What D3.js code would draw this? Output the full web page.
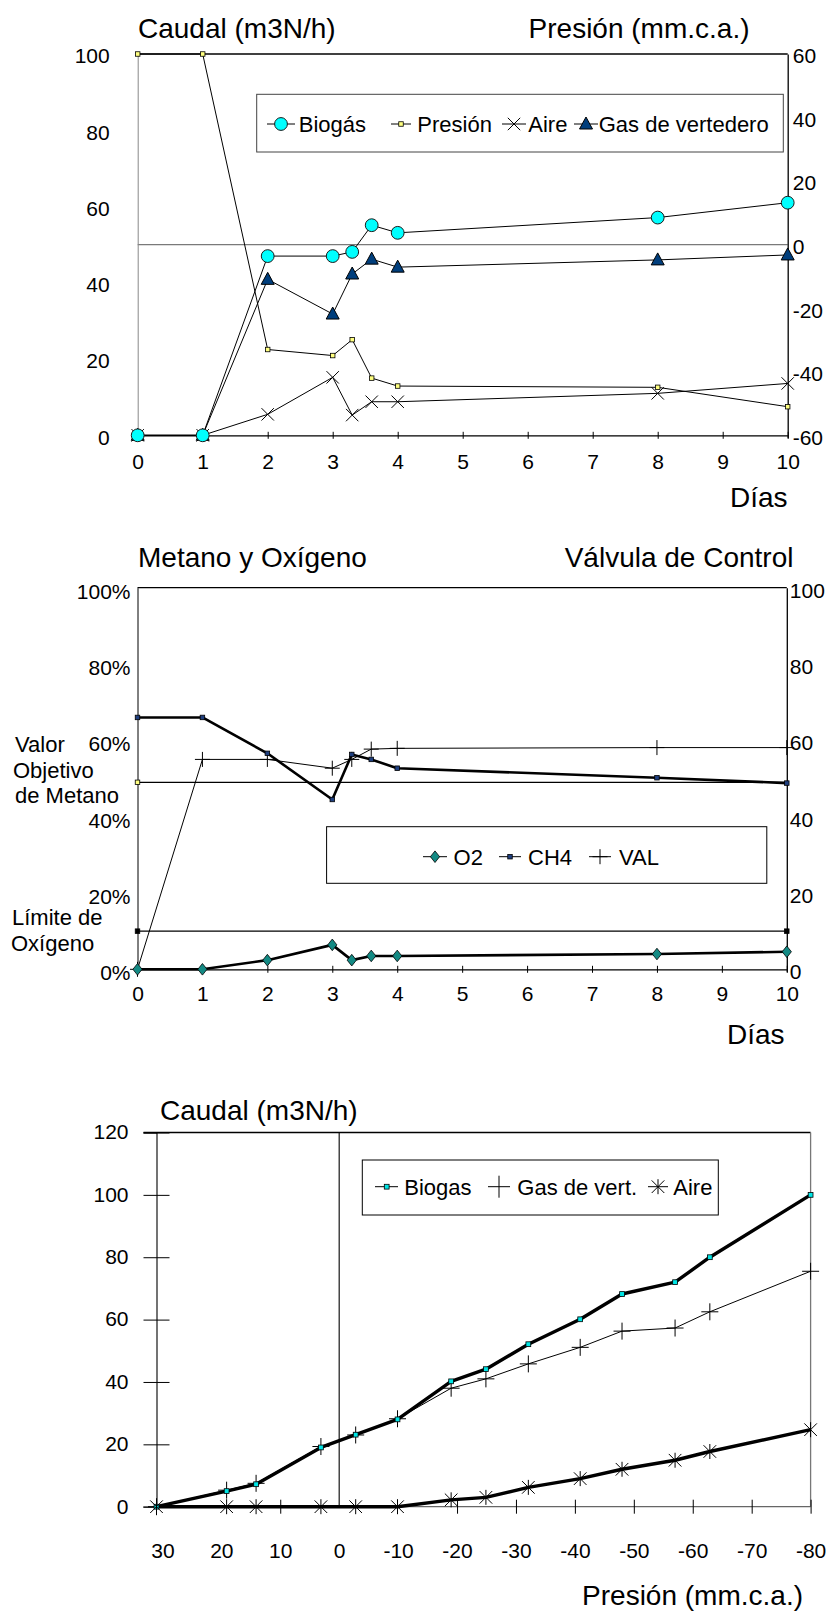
<!DOCTYPE html>
<html><head><meta charset="utf-8">
<script src="https://cdn.jsdelivr.net/npm/d3@7"></script>
<style>body{margin:0;background:#fff}svg{display:block}text{font-family:"Liberation Sans",Arial,sans-serif;fill:#000}</style>
</head><body><svg id="c" width="834" height="1611"></svg>
<script>
// ---------- DATA ----------
// Chart 1 (days)
const days = [0, 1, 2, 3, 3.3, 3.6, 4, 8, 10];
const biogas1 = [0, 0, 47, 47, 48.1, 55.1, 53.1, 57.1, 61];
const presion1 = [60, 60, -33, -34.9, -29.9, -42, -44.5, -44.9, -51];
const aire1 = [0, 0, 5.5, 15.2, 5.3, 8.8, 8.8, 11, 13.6];
const gasVert1 = [0, 0, 40.9, 31.8, 42.3, 46.2, 44.1, 46, 47.3];
const xTicks1 = [0, 1, 2, 3, 4, 5, 6, 7, 8, 9, 10];
const yTicks1L = [0, 20, 40, 60, 80, 100];
const yTicks1R = [-60, -40, -20, 0, 20, 40, 60];
// Chart 2 (days)
const o2 = [0, 0, 2.4, 6.4, 2.4, 3.5, 3.5, 4.0, 4.6];
const ch4 = [66, 66, 56.6, 44.5, 56.3, 55, 52.7, 50.2, 48.8];
const val = [0, 55, 55, 52.7, 55, 57.7, 57.9, 58.1, 58.1];
const targetCH4 = 49;   // % Valor Objetivo de Metano
const limitO2 = 10;     // % Límite de Oxígeno
const yTicks2L = [0, 0.2, 0.4, 0.6, 0.8, 1];
const yTicks2R = [0, 20, 40, 60, 80, 100];
// Chart 3 (pressure)
const pres3 = [31, 19.1, 14.1, 3.1, -2.8, -9.9, -19, -24.9, -32.1, -40.9, -48, -57, -62.9, -80];
const biogas3 = [0, 5.0, 7.2, 19.0, 23.1, 28.0, 40.2, 44.1, 52.1, 60.1, 68.2, 72.0, 80.0, 100];
const gasVert3 = [0, 5.3, 7.5, 19.3, 23, 28.2, 38, 41, 45.8, 51.1, 56.3, 57.3, 62.5, 75.5];
const aire3 = [0, 0, 0, 0, 0, 0, 2.2, 3.0, 6.2, 9.0, 12.0, 14.9, 17.7, 24.7];
const xLabels3 = [30, 20, 10, 0, -10, -20, -30, -40, -50, -60, -70, -80];
const xTickMarks3 = [10, -20, -30, -40, -50, -60, -70, -80];
const yTicks3 = [0, 20, 40, 60, 80, 100, 120];

// ---------- HELPERS ----------
const svg = d3.select("#c");
const FONT = '"Liberation Sans", Arial, sans-serif';
const plain = d => String(d);
function txt(x, y, s, size, anchor) {
  svg.append("text").attr("x", x).attr("y", y).attr("font-size", size)
    .attr("text-anchor", anchor || "start").text(s);
}
function ln(g, x1, y1, x2, y2, c, w) {
  g.append("line").attr("x1", x1).attr("y1", y1).attr("x2", x2).attr("y2", y2)
    .attr("stroke", c).attr("stroke-width", w);
}
function styleAxis(g, size) {
  g.attr("font-family", FONT).attr("font-size", size);
  g.selectAll("text").attr("fill", "#000");
}
// markers
function mCircle(g, x, y) { g.append("circle").attr("cx", x).attr("cy", y).attr("r", 6.4).attr("fill", "#00ffff").attr("stroke", "#1a1a1a").attr("stroke-width", 1); }
function mTri(g, x, y) { g.append("path").attr("d", `M${x},${y-7} L${x+6.5},${y+5} L${x-6.5},${y+5} Z`).attr("fill", "#003e7c").attr("stroke", "#000").attr("stroke-width", 1); }
function mX(g, x, y, s) { s = s || 6.2; ln(g, x-s, y-s, x+s, y+s, "#000", 1); ln(g, x-s, y+s, x+s, y-s, "#000", 1); }
function mSq(g, x, y, fill, s) { s = s || 4.5; g.append("rect").attr("x", x-s/2).attr("y", y-s/2).attr("width", s).attr("height", s).attr("fill", fill).attr("stroke", "#000").attr("stroke-width", 0.8); }
function mDia(g, x, y) { g.append("path").attr("d", `M${x},${y-5.8} L${x+4.6},${y} L${x},${y+5.8} L${x-4.6},${y} Z`).attr("fill", "#138a84").attr("stroke", "#000").attr("stroke-width", 0.8); }
function mPlus(g, x, y, s) { s = s || 7.5; ln(g, x-s, y, x+s, y, "#000", 1); ln(g, x, y-s, x, y+s, "#000", 1); }
function mStar(g, x, y) { mX(g, x, y, 6.3); ln(g, x, y-7.5, x, y+7.5, "#000", 1); }
function series(g, xs, ys, xsc, ysc, w) {
  const pts = xs.map((d, i) => [xsc(d), ysc(ys[i])]);
  g.append("path").attr("d", d3.line()(pts)).attr("fill", "none").attr("stroke", "#000").attr("stroke-width", w).attr("stroke-linejoin", "round");
  return pts;
}

// ================= CHART 1 =================
const x1 = d3.scaleLinear().domain([0, 10]).range([137.7, 787.7]);
const y1L = d3.scaleLinear().domain([0, 100]).range([435.3, 54]);
const y1R = d3.scaleLinear().domain([-60, 60]).range([435.3, 54]);
const g1 = svg.append("g");

ln(g1, x1(0), y1L(100), x1(10), y1L(100), "#000", 1.3);
ln(g1, x1(0), y1R(0), x1(10), y1R(0), "#7a7a7a", 1.2);

const ax1L = g1.append("g").attr("transform", `translate(${x1(0)},0)`)
  .call(d3.axisLeft(y1L).tickValues(yTicks1L).tickSize(0).tickPadding(28).tickFormat(plain));
ax1L.select(".domain").attr("stroke", "#888");
ax1L.selectAll(".tick text").attr("dy", "0.42em");
styleAxis(ax1L, 21);
const ax1R = g1.append("g").attr("transform", `translate(${x1(10)},0)`)
  .call(d3.axisRight(y1R).tickValues(yTicks1R).tickSize(0).tickPadding(5).tickFormat(plain));
ax1R.select(".domain").attr("stroke", "#000").attr("stroke-width", 1.3);
ax1R.selectAll(".tick text").attr("dy", "0.42em");
styleAxis(ax1R, 21);
const ax1B = g1.append("g").attr("transform", `translate(0,${y1L(0)})`)
  .call(d3.axisBottom(x1).tickValues(xTicks1).tickSizeOuter(0).tickSize(3).tickFormat(plain));
ax1B.select(".domain").attr("stroke", "#000").attr("stroke-width", 1.3);
ax1B.selectAll(".tick line").attr("y1", -3.5).attr("y2", 3.5).attr("stroke", "#000");
ax1B.selectAll(".tick text").attr("y", 33.5).attr("dy", 0);
styleAxis(ax1B, 21);

const pA1 = series(g1, days, aire1, x1, y1L, 1);
const pP1 = series(g1, days, presion1, x1, y1R, 1);
const pG1 = series(g1, days, gasVert1, x1, y1L, 1);
const pB1 = series(g1, days, biogas1, x1, y1L, 1);
pA1.forEach(p => mX(g1, p[0], p[1]));
pP1.forEach(p => mSq(g1, p[0], p[1], "#ffff80", 4.5));
pG1.forEach(p => mTri(g1, p[0], p[1]));
pB1.forEach(p => mCircle(g1, p[0], p[1]));

g1.append("rect").attr("x", 256.7).attr("y", 94.3).attr("width", 526.6).attr("height", 57.7).attr("fill", "#fff").attr("stroke", "#444").attr("stroke-width", 1);
ln(g1, 267, 124, 295, 124, "#000", 1); mCircle(g1, 281, 124);
ln(g1, 391, 124, 411, 124, "#000", 1); mSq(g1, 401, 124, "#ffff80", 4.5);
ln(g1, 502, 124, 526, 124, "#000", 1); mX(g1, 514, 124);
ln(g1, 574, 124, 598, 124, "#000", 1); mTri(g1, 586, 124);
txt(298.8, 132, "Biogás", 22);
txt(417.3, 132, "Presión", 22);
txt(528.3, 132, "Aire", 22);
txt(598.7, 132, "Gas de vertedero", 22);

txt(138, 38, "Caudal (m3N/h)", 28);
txt(749.5, 38, "Presión (mm.c.a.)", 28, "end");
txt(787.5, 506.5, "Días", 28, "end");

// ================= CHART 2 =================
const x2 = d3.scaleLinear().domain([0, 10]).range([137.5, 786.8]);
const y2L = d3.scaleLinear().domain([0, 1]).range([969.3, 587.7]);
const y2R = d3.scaleLinear().domain([0, 100]).range([969.3, 587.7]);
const g2 = svg.append("g");

ln(g2, x2(0), y2L(1), x2(10), y2L(1), "#000", 1.3);
const ax2L = g2.append("g").attr("transform", `translate(${x2(0)},0)`)
  .call(d3.axisLeft(y2L).tickValues(yTicks2L).tickSize(0).tickPadding(7).tickFormat(d3.format(".0%")));
ax2L.select(".domain").attr("stroke", "#000");
ax2L.selectAll(".tick text").attr("dy", "0.5em");
styleAxis(ax2L, 21);
const ax2R = g2.append("g").attr("transform", `translate(${x2(10)},0)`)
  .call(d3.axisRight(y2R).tickValues(yTicks2R).tickSize(0).tickPadding(3).tickFormat(plain));
ax2R.select(".domain").attr("stroke", "#000").attr("stroke-width", 1.3);
ax2R.selectAll(".tick text").attr("dy", "0.45em");
styleAxis(ax2R, 21);
const ax2B = g2.append("g").attr("transform", `translate(0,${y2L(0)})`)
  .call(d3.axisBottom(x2).tickValues(xTicks1).tickSizeOuter(0).tickSize(3).tickFormat(plain));
ax2B.select(".domain").attr("stroke", "#000").attr("stroke-width", 1.3);
ax2B.selectAll(".tick line").attr("y1", -3.5).attr("y2", 3.5).attr("stroke", "#000");
ax2B.selectAll(".tick text").attr("y", 32).attr("dy", 0);
styleAxis(ax2B, 21);

ln(g2, x2(0), y2L(targetCH4/100), x2(10), y2L(targetCH4/100), "#000", 1.2);
ln(g2, x2(0), y2L(limitO2/100), x2(10), y2L(limitO2/100), "#000", 1.2);
mSq(g2, x2(0), y2L(targetCH4/100), "#ffff80", 4.5);
mSq(g2, x2(0), y2L(limitO2/100), "#000", 4.5);
mSq(g2, x2(10), y2L(limitO2/100), "#000", 4.5);

const pV2 = series(g2, days, val, x2, y2R, 1);
const pC2 = series(g2, days, ch4.map(v => v/100), x2, y2L, 2.6);
const pO2 = series(g2, days, o2.map(v => v/100), x2, y2L, 2.6);
pV2.forEach(p => mPlus(g2, p[0], p[1]));
pC2.forEach(p => mSq(g2, p[0], p[1], "#1f3f7f", 4.5));
pO2.forEach(p => mDia(g2, p[0], p[1]));

g2.append("rect").attr("x", 326.6).attr("y", 826.7).attr("width", 440.2).attr("height", 56.6).attr("fill", "#fff").attr("stroke", "#000").attr("stroke-width", 1);
ln(g2, 423, 856.7, 447, 856.7, "#000", 1); mDia(g2, 435, 856.7);
ln(g2, 499, 856.7, 521, 856.7, "#000", 1); mSq(g2, 510, 856.7, "#1f3f7f", 4.5);
ln(g2, 589, 856.7, 611, 856.7, "#000", 1); mPlus(g2, 600, 856.7);
txt(453.6, 864.5, "O2", 22);
txt(528, 864.5, "CH4", 22);
txt(619, 864.5, "VAL", 22);

txt(138, 566.7, "Metano y Oxígeno", 28);
txt(793.5, 566.7, "Válvula de Control", 28, "end");
txt(784.5, 1044, "Días", 28, "end");
txt(15, 752, "Valor", 22);
txt(13, 777.5, "Objetivo", 22);
txt(15, 802.5, "de Metano", 22);
txt(12, 925, "Límite de", 22);
txt(11, 950.5, "Oxígeno", 22);

// ================= CHART 3 =================
const x3 = d3.scaleLinear().domain([31, -80]).range([156.5, 810.6]);
const y3 = d3.scaleLinear().domain([0, 120]).range([1506.7, 1132.5]);
const g3 = svg.append("g");

ln(g3, 143.5, y3(120), x3(-80), y3(120), "#000", 1.3);
ln(g3, x3(-80), y3(120), x3(-80), y3(0), "#777", 1.3);
ln(g3, x3(0), y3(120), x3(0), y3(0), "#000", 1.1);
const ax3L = g3.append("g").attr("transform", `translate(${x3(31)},0)`)
  .call(d3.axisLeft(y3).tickValues(yTicks3).tickSizeOuter(0).tickSize(13).tickPadding(15).tickFormat(plain));
ax3L.select(".domain").attr("stroke", "#000").attr("stroke-width", 1.1);
ax3L.selectAll(".tick line").attr("x1", -13).attr("x2", 13).attr("stroke", "#000");
ax3L.selectAll(".tick text").attr("dy", "0.3em");
styleAxis(ax3L, 21);
const ax3B = g3.append("g").attr("transform", `translate(0,${y3(0)})`)
  .call(d3.axisBottom(x3).tickValues(xTickMarks3).tickSizeOuter(0).tickSize(7).tickFormat(""));
ax3B.select(".domain").attr("stroke", "#666").attr("stroke-width", 1.3).attr("d", `M143.5,0H${x3(-80)}`);
ax3B.selectAll(".tick line").attr("y1", -7).attr("y2", 7).attr("stroke", "#000");
const ax3BL = g3.append("g").attr("transform", `translate(0,${y3(0)})`)
  .call(d3.axisBottom(x3).tickValues(xLabels3).tickSize(0).tickFormat(plain));
ax3BL.select(".domain").remove();
ax3BL.selectAll(".tick text").attr("y", 51).attr("dy", 0);
styleAxis(ax3BL, 21);

const pG3 = series(g3, pres3, gasVert3, x3, y3, 1);
const pB3 = series(g3, pres3, biogas3, x3, y3, 3.4);
const pA3 = series(g3, pres3, aire3, x3, y3, 3.4);
pG3.forEach(p => mPlus(g3, p[0], p[1], 8.5));
pB3.forEach(p => mSq(g3, p[0], p[1], "#00e5e5", 4.8));
pA3.forEach(p => mStar(g3, p[0], p[1]));

g3.append("rect").attr("x", 362.3).attr("y", 1160).attr("width", 356).attr("height", 55).attr("fill", "#fff").attr("stroke", "#000").attr("stroke-width", 1);
ln(g3, 375, 1186.7, 398, 1186.7, "#000", 1); mSq(g3, 386.7, 1186.7, "#00e5e5", 4.8);
mPlus(g3, 499, 1186.7, 11);
ln(g3, 648, 1186.7, 668, 1186.7, "#000", 1); mStar(g3, 658, 1186.7);
txt(404.3, 1194.5, "Biogas", 22);
txt(517.3, 1194.5, "Gas de vert.", 22);
txt(673.3, 1194.5, "Aire", 22);

txt(160, 1120, "Caudal (m3N/h)", 28);
txt(803, 1605, "Presión (mm.c.a.)", 28, "end");
</script></body></html>
